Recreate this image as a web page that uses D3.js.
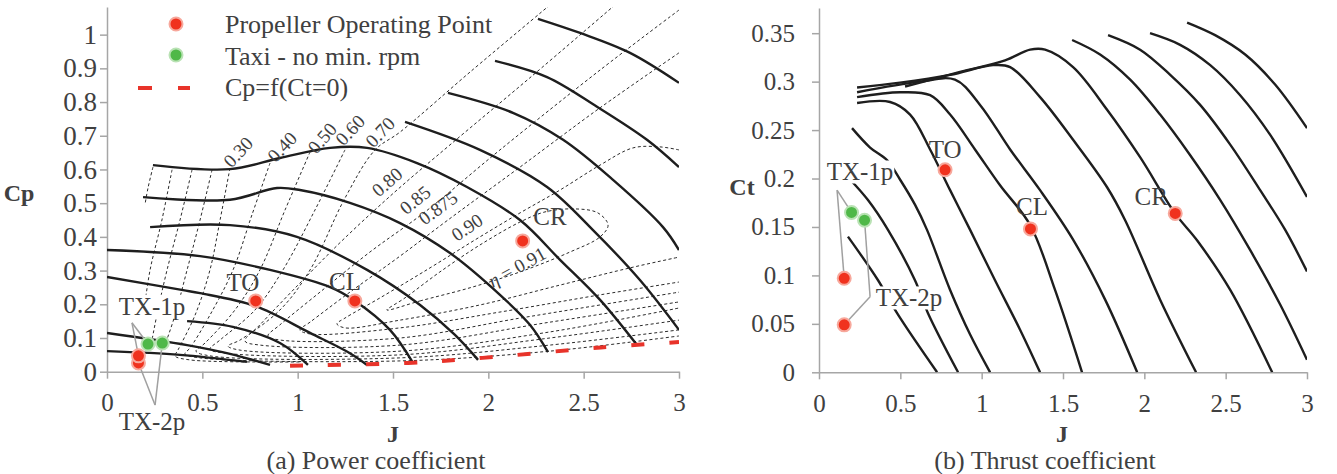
<!DOCTYPE html>
<html>
<head>
<meta charset="utf-8">
<script src="https://cdn.jsdelivr.net/npm/d3@7"></script>
<style>
  body { margin: 0; background: #fff; }
  text { font-family: "Liberation Serif", "Times New Roman", serif; fill: #404040; }
</style>
</head>
<body>
<svg id="chart" width="1337" height="474"></svg>
<script>
const J_TICKS = [0, 0.5, 1, 1.5, 2, 2.5, 3];
const CP_TICKS = [0, 0.1, 0.2, 0.3, 0.4, 0.5, 0.6, 0.7, 0.8, 0.9, 1];
const CT_TICKS = [0, 0.05, 0.1, 0.15, 0.2, 0.25, 0.3, 0.35];

// (a) pitch curves, [J, Cp]
var cpPitch = [
  [[0,0.061],[0.383,0.050],[0.734,0.029]],
  [[0,0.115],[0.42,0.079],[0.645,0.053],[0.855,0.020]],
  [[0.42,0.150],[0.66,0.133],[0.907,0.085],[1.054,0.020]],
  [[0,0.281],[0.399,0.242],[0.488,0.233],[0.776,0.195],[1.065,0.115],[1.274,0.055],[1.364,0.020]],
  [[0,0.361],[0.488,0.343],[0.855,0.302],[1.170,0.251],[1.301,0.210],[1.484,0.124],[1.605,0.026]],
  [[0.226,0.429],[0.645,0.435],[0.996,0.400],[1.364,0.302],[1.642,0.198],[1.825,0.109],[1.946,0.035]],
  [[0.189,0.518],[0.645,0.510],[0.892,0.545],[1.012,0.539],[1.274,0.501],[1.537,0.441],[1.799,0.352],[2.061,0.228],[2.218,0.139],[2.313,0.058]],
  [[0.241,0.613],[0.645,0.601],[0.907,0.634],[1.170,0.664],[1.364,0.664],[1.626,0.619],[1.888,0.548],[2.166,0.450],[2.376,0.332],[2.586,0.213],[2.780,0.079]],
  [[1.563,0.741],[1.956,0.658],[2.308,0.548],[2.549,0.420],[2.795,0.272],[3.0,0.124]],
  [[1.788,0.827],[2.129,0.768],[2.392,0.688],[2.654,0.569],[2.916,0.429],[3.0,0.361]],
  [[2.035,0.922],[2.308,0.874],[2.570,0.786],[2.832,0.688],[3.0,0.607]],
  [[2.260,1.047],[2.481,1.005],[2.743,0.946],[3.0,0.857]]
];

// (a) efficiency contours, [J, Cp]
var cpEta = [
  [[0.241,0.607],[0.215,0.545],[0.199,0.495]],
  [[0.341,0.599],[0.288,0.450],[0.226,0.302],[0.194,0.183]],
  [[0.446,0.599],[0.383,0.450],[0.315,0.302],[0.267,0.183],[0.236,0.094]],
  [[0.551,0.599],[0.488,0.450],[0.420,0.302],[0.357,0.168],[0.304,0.079]],
  [[0.645,0.604],[0.593,0.450],[0.540,0.302],[0.462,0.168],[0.372,0.064],[0.357,0.047],[0.435,0.035],[1.012,0.029]],
  [[0.855,0.619],[0.760,0.465],[0.661,0.302],[0.540,0.168],[0.435,0.070],[0.409,0.053],[0.488,0.041],[1.537,0.032],[2.323,0.061],[3.0,0.106]],
  [[1.065,0.652],[0.934,0.480],[0.802,0.302],[0.671,0.183],[0.514,0.085],[0.467,0.061],[0.540,0.047],[1.537,0.041],[2.323,0.079],[3.0,0.124]],
  [[1.248,0.658],[1.091,0.480],[0.923,0.302],[0.776,0.183],[0.593,0.094],[0.540,0.067],[0.619,0.055],[1.537,0.050],[2.323,0.100],[3.0,0.153]],
  [[2.323,1.088],[1.904,0.889],[1.537,0.711],[1.406,0.658],[1.248,0.515],[1.065,0.302],[0.907,0.183],[0.698,0.094],[0.635,0.076],[0.698,0.064],[1.537,0.061],[2.323,0.118],[3.0,0.189]],
  [[2.664,1.088],[2.218,0.872],[1.799,0.673],[1.521,0.539],[1.248,0.397],[1.012,0.263],[0.802,0.139],[0.724,0.091],[0.802,0.079],[1.537,0.079],[2.323,0.147],[3.0,0.207]],
  [[3.0,1.073],[2.586,0.895],[2.061,0.658],[1.668,0.474],[1.379,0.355],[1.117,0.236],[0.907,0.139],[0.844,0.106],[0.907,0.094],[1.537,0.100],[2.166,0.159],[2.586,0.198],[3.0,0.236]],
  [[3.0,0.946],[2.586,0.783],[2.166,0.607],[1.788,0.450],[1.537,0.343],[1.274,0.236],[1.065,0.147],[1.012,0.124],[1.065,0.112],[1.537,0.130],[2.061,0.177],[2.586,0.228],[3.0,0.266]],
  [[3.0,0.658],[2.90,0.667],[2.759,0.664],[2.586,0.613],[2.376,0.539],[2.166,0.471],[1.930,0.391],[1.694,0.308],[1.432,0.219],[1.248,0.159],[1.206,0.142],[1.248,0.130],[1.537,0.153],[1.956,0.198],[2.376,0.257],[2.743,0.308],[3.0,0.340]]
];
var cpEtaLoop = [[1.468,0.183],[1.642,0.210],[1.904,0.249],[2.166,0.296],[2.428,0.355],[2.586,0.400],[2.628,0.435],[2.575,0.471],[2.454,0.483],[2.297,0.474],[2.166,0.444],[1.956,0.376],[1.746,0.296],[1.563,0.219]];
var cpEtaNames = ["0.30", "0.40", "0.50", "0.60", "0.70", "0.80", "0.85", "0.875", "0.90", "0.91"];
var cpEtaNameJ = [0.687, 0.918, 1.128, 1.274, 1.432, 1.468, 1.615, 1.736, 1.888, 2.150];
var cpEtaNameCp = [0.652, 0.667, 0.693, 0.717, 0.711, 0.563, 0.510, 0.486, 0.429, 0.311];

// (a) Cp at Ct = 0
var cpZeroThrust = [[0.96,0.018],[1.58,0.026],[1.97,0.041],[2.59,0.072],[3.0,0.088]];

// (b) pitch curves, [J, Ct]
var ctPitch = [
  [[0.178,0.140],[0.363,0.095],[0.480,0.061],[0.726,0]],
  [[0.191,0.199],[0.30,0.178],[0.424,0.147],[0.59,0.095],[0.67,0.061],[0.855,0]],
  [[0.203,0.252],[0.314,0.232],[0.418,0.219],[0.498,0.199],[0.59,0.173],[0.664,0.147],[0.806,0.085],[0.929,0.039],[1.052,0]],
  [[0.234,0.278],[0.437,0.279],[0.56,0.266],[0.683,0.230],[0.806,0.188],[0.929,0.147],[1.082,0.095],[1.236,0.044],[1.359,0]],
  [[0.234,0.284],[0.498,0.289],[0.683,0.286],[0.806,0.266],[0.959,0.230],[1.113,0.193],[1.298,0.152],[1.451,0.085],[1.617,0]],
  [[0.234,0.289],[0.621,0.300],[0.836,0.302],[0.99,0.276],[1.175,0.23],[1.359,0.188],[1.562,0.137],[1.759,0.075],[1.956,0]],
  [[0.234,0.294],[0.498,0.299],[0.806,0.307],[1.07,0.317],[1.175,0.315],[1.359,0.284],[1.562,0.240],[1.771,0.191],[1.882,0.157],[2.097,0.075],[2.318,0]],
  [[0.529,0.295],[0.867,0.310],[1.144,0.322],[1.298,0.333],[1.39,0.333],[1.562,0.315],[1.771,0.271],[1.974,0.222],[2.189,0.164],[2.325,0.136],[2.528,0.085],[2.786,0]],
  [[1.556,0.343],[1.728,0.328],[1.913,0.302],[2.097,0.266],[2.282,0.224],[2.466,0.178],[2.651,0.126],[2.835,0.070],[3.0,0.013]],
  [[1.777,0.348],[1.974,0.333],[2.159,0.307],[2.343,0.276],[2.528,0.235],[2.712,0.188],[2.866,0.147],[3.0,0.104]],
  [[2.035,0.350],[2.22,0.338],[2.405,0.317],[2.589,0.286],[2.774,0.245],[3.0,0.181]],
  [[2.263,0.361],[2.435,0.348],[2.62,0.328],[2.804,0.297],[3.0,0.252]]
];

// operating points
var opNames = ["TO", "CL", "CR"];
var cpOpJ = [0.78, 1.30, 2.18];
var cpOpCp = [0.21, 0.21, 0.388];
var ctOpJ = [0.775, 1.30, 2.19];
var ctOpCt = [0.209, 0.148, 0.164];
var cpTaxiRedJ = [0.165, 0.165];
var cpTaxiRedCp = [0.026, 0.047];
var cpTaxiGreenJ = [0.215, 0.29];
var cpTaxiGreenCp = [0.082, 0.085];
var ctTaxiRedJ = [0.155, 0.155];
var ctTaxiRedCt = [0.049, 0.097];
var ctTaxiGreenJ = [0.20, 0.28];
var ctTaxiGreenCt = [0.165, 0.157];

// annotation anchors (label centre), in data units
var cpNoteText = ["TO", "CL", "CR", "TX-1p", "TX-2p"];
var cpNoteJ = [0.713, 1.248, 2.323, 0.236, 0.236];
var cpNoteCp = [0.266, 0.269, 0.462, 0.195, -0.147];
var ctNoteJ = [0.775, 1.31, 2.042, 0.252, 0.553];
var ctNoteCt = [0.23, 0.171, 0.182, 0.207, 0.077];

// leader lines [from, to]
var cpLeaders = [
  [[0.131,0.145],[0.215,0.082]], [[0.131,0.145],[0.165,0.047]],
  [[0.252,-0.099],[0.29,0.085]], [[0.252,-0.099],[0.165,0.026]]
];
var ctLeaders = [
  [[0.111,0.188],[0.20,0.165]], [[0.111,0.188],[0.155,0.097]],
  [[0.314,0.078],[0.28,0.157]], [[0.314,0.078],[0.155,0.049]]
];

var RED = "#f0321e", RED_HALO = "#f7a89c";
var GREEN = "#4fb848", GREEN_HALO = "#b9e2b4";
var AXIS = "#a6a6a6";

var svg = d3.select("#chart");

function fmt(d) { return String(+d.toFixed(2)); }

function makePanel(id, xr, yr, ymax, yTicks, yPad, yFont) {
  var x = d3.scaleLinear().domain([0, 3]).range(xr);
  var y = d3.scaleLinear().domain([0, ymax]).range(yr);
  svg.append("clipPath").attr("id", id)
    .append("rect")
      .attr("x", xr[0]).attr("y", yr[1])
      .attr("width", xr[1] - xr[0]).attr("height", yr[0] - yr[1]);

  var gx = svg.append("g")
      .attr("transform", "translate(0," + yr[0] + ")")
      .call(d3.axisBottom(x).tickValues(J_TICKS).tickFormat(fmt)
            .tickSize(7).tickSizeOuter(0).tickPadding(15));
  var gy = svg.append("g")
      .attr("transform", "translate(" + xr[0] + ",0)")
      .call(d3.axisLeft(y).tickValues(yTicks).tickFormat(fmt)
            .tickSize(7).tickSizeOuter(0).tickPadding(yPad));
  [gx, gy].forEach(function(g) {
    g.attr("font-family", null);
    g.selectAll("path, line").attr("stroke", AXIS).attr("stroke-width", 1.5);
    g.selectAll("text").attr("font-size", 25).attr("fill", "#404040");
  });
  gy.selectAll("text").attr("font-size", yFont);
  var plot = svg.append("g").attr("clip-path", "url(#" + id + ")");
  return {x: x, y: y, plot: plot};
}

function lineGen(p, curve) {
  return d3.line()
    .x(function(d) { return p.x(d[0]); })
    .y(function(d) { return p.y(d[1]); })
    .curve(curve || d3.curveCatmullRom.alpha(0.5));
}

function drawSolid(p, curves) {
  p.plot.append("g").selectAll("path")
    .data(curves).enter().append("path")
      .attr("d", lineGen(p))
      .attr("fill", "none")
      .attr("stroke", "#1e1e1e")
      .attr("stroke-width", 2.4);
}

function drawDots(p, xs, ys, fill, halo) {
  svg.append("g").selectAll("circle")
    .data(xs).enter().append("circle")
      .attr("cx", function(d) { return p.x(d); })
      .attr("cy", function(d, i) { return p.y(ys[i]); })
      .attr("r", 6.5)
      .attr("fill", fill)
      .attr("stroke", halo)
      .attr("stroke-width", 2);
}

function drawLeaders(p, leaders) {
  svg.append("g").selectAll("line")
    .data(leaders).enter().append("line")
      .attr("x1", function(d) { return p.x(d[0][0]); })
      .attr("y1", function(d) { return p.y(d[0][1]); })
      .attr("x2", function(d) { return p.x(d[1][0]); })
      .attr("y2", function(d) { return p.y(d[1][1]); })
      .attr("stroke", "#a0a0a0")
      .attr("stroke-width", 1.5);
}

function drawNotes(p, names, xs, ys, boxed) {
  var g = svg.append("g");
  names.forEach(function(n, i) {
    var t = g.append("text")
      .attr("x", p.x(xs[i]))
      .attr("y", p.y(ys[i]))
      .attr("dy", "0.35em")
      .attr("text-anchor", "middle")
      .attr("font-size", 25)
      .text(n);
    if (boxed[i]) {
      var b = t.node().getBBox();
      g.insert("rect", function() { return t.node(); })
        .attr("x", b.x - 1).attr("y", b.y + 2)
        .attr("width", b.width + 2).attr("height", b.height - 4)
        .attr("fill", "#fff");
    }
  });
}

// ---------- (a) power coefficient ----------
var pa = makePanel("clipA", [107, 679], [371.7, 7], 1.082, CP_TICKS, 3, 27);

pa.plot.append("g").selectAll("path")
  .data(cpEta).enter().append("path")
    .attr("d", lineGen(pa))
    .attr("fill", "none")
    .attr("stroke", "#2a2a2a")
    .attr("stroke-width", 1)
    .attr("stroke-dasharray", "3,2.5");
pa.plot.append("path")
  .datum(cpEtaLoop)
  .attr("d", lineGen(pa, d3.curveCatmullRomClosed.alpha(0.5)))
  .attr("fill", "none")
  .attr("stroke", "#2a2a2a")
  .attr("stroke-width", 1)
  .attr("stroke-dasharray", "3,2.5");

var etaAngle = [-47, -47, -49, -47, -47, -41, -39, -36, -34, -29];
cpEtaNames.forEach(function(n, i) {
  var cx = pa.x(cpEtaNameJ[i]), cy = pa.y(cpEtaNameCp[i]);
  var t = svg.append("text")
    .attr("transform", "translate(" + cx + "," + cy + ") rotate(" + etaAngle[i] + ")")
    .attr("text-anchor", "middle")
    .attr("dy", "0.35em")
    .attr("font-size", 19)
    .attr("fill", "#333");
  if (n === "0.91") {
    t.append("tspan").attr("font-style", "italic").text("η");
    t.append("tspan").text(" = 0.91");
  } else {
    t.text(n);
  }
});

drawSolid(pa, cpPitch);

pa.plot.append("path")
  .datum(cpZeroThrust)
  .attr("d", lineGen(pa))
  .attr("fill", "none")
  .attr("stroke", "#e8332a")
  .attr("stroke-width", 4)
  .attr("stroke-dasharray", "13,25");

drawLeaders(pa, cpLeaders);
drawNotes(pa, cpNoteText, cpNoteJ, cpNoteCp, [false, false, false, true, true]);
drawDots(pa, cpOpJ, cpOpCp, RED, RED_HALO);
drawDots(pa, cpTaxiRedJ, cpTaxiRedCp, RED, RED_HALO);
drawDots(pa, cpTaxiGreenJ, cpTaxiGreenCp, GREEN, GREEN_HALO);

// legend
var leg = svg.append("g").attr("transform", "translate(138,0)");
leg.append("circle").attr("cx", 38).attr("cy", 24).attr("r", 6.5)
  .attr("fill", RED).attr("stroke", RED_HALO).attr("stroke-width", 2);
leg.append("circle").attr("cx", 38).attr("cy", 55).attr("r", 6.5)
  .attr("fill", GREEN).attr("stroke", GREEN_HALO).attr("stroke-width", 2);
leg.append("line").attr("x1", 0).attr("x2", 52).attr("y1", 88).attr("y2", 88)
  .attr("stroke", "#e8332a").attr("stroke-width", 4).attr("stroke-dasharray", "14,26");
["Propeller Operating Point", "Taxi - no min. rpm", "Cp=f(Ct=0)"].forEach(function(s, i) {
  leg.append("text").attr("x", 87).attr("y", 33 + i * 31.5)
    .attr("font-size", 26).text(s);
});

// ---------- (b) thrust coefficient ----------
var pb = makePanel("clipB", [819, 1307], [372.3, 8], 0.376, CT_TICKS, 17, 25);
drawSolid(pb, ctPitch);
drawLeaders(pb, ctLeaders);
drawNotes(pb, cpNoteText, ctNoteJ, ctNoteCt, [false, false, false, true, true]);
drawDots(pb, ctOpJ, ctOpCt, RED, RED_HALO);
drawDots(pb, ctTaxiRedJ, ctTaxiRedCt, RED, RED_HALO);
drawDots(pb, ctTaxiGreenJ, ctTaxiGreenCt, GREEN, GREEN_HALO);

// axis titles and captions
function title(x, y, s) {
  svg.append("text").attr("x", x).attr("y", y).attr("dy", "0.35em")
    .attr("text-anchor", "middle").attr("font-weight", "bold").attr("font-size", 24)
    .attr("fill", "#262626").text(s);
}
title(19, 193, "Cp");
title(742, 187, "Ct");
title(393, 434, "J");
title(1062, 434, "J");
svg.append("text").attr("x", 376).attr("y", 469)
  .attr("text-anchor", "middle").attr("font-size", 26).text("(a) Power coefficient");
svg.append("text").attr("x", 1045).attr("y", 469)
  .attr("text-anchor", "middle").attr("font-size", 26).text("(b) Thrust coefficient");
</script>
</body>
</html>
